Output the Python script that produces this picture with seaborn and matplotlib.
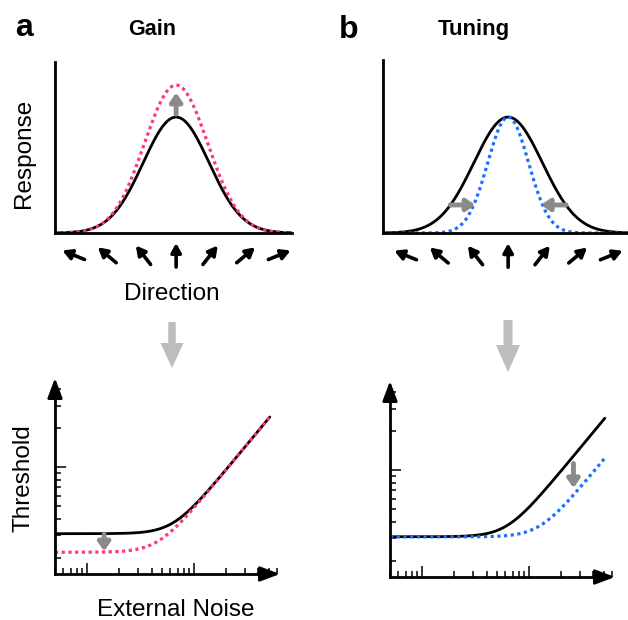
import numpy as np
import matplotlib
matplotlib.use("Agg")
import matplotlib.pyplot as plt
import seaborn as sns
from matplotlib.patches import FancyArrow
from matplotlib.transforms import blended_transform_factory, offset_copy

sns.set_theme(style="white")
plt.rcParams['font.family'] = ['Liberation Sans', 'DejaVu Sans']
plt.rcParams['text.color'] = 'black'

W, H = 628, 620

# tuning curves, direction in degrees
direction = np.linspace(-192, 192, 385)
base_peak = 0.678
base_width = 50
gain_peak = 0.865
gain_width = 48
tuned_width = 31

# little direction glyphs under the x axis
glyph_pos = [-156, -105, -50, 0, 52, 106, 157]
glyph_angle = [-68, -50, -38, 0, 38, 50, 68]

# threshold vs external noise (log-log)
noise = np.logspace(np.log10(0.5), np.log10(51), 300)
knee_p = 3.5
k_base = 0.048
neq_base = 6.4
neq_gain = 4.6
k_b = 0.0495
neq_b = 6.2
k_tuned = 0.0243
neq_tuned = 12.6

pink = '#ff3a6a'
blue = '#1a6fff'
grey = '#8a8a8a'
light = '#bdbdbd'


def gauss(x, peak, width):
    return peak * np.exp(-x ** 2 / (2 * width ** 2))


def tvc(n, k, neq):
    return k * (n ** knee_p + neq ** knee_p) ** (1 / knee_p)


def px_axes(left, top, right, bottom):
    return fig.add_axes([left / W, (H - bottom) / H, (right - left) / W, (bottom - top) / H])


fig = plt.figure(figsize=(W / 100, H / 100), dpi=100)


def tuning_axes(ax, xlim, ytop):
    ax.set_xlim(*xlim)
    ax.set_ylim(0, ytop)
    for s in ['top', 'right']:
        ax.spines[s].set_visible(False)
    for s in ['left', 'bottom']:
        ax.spines[s].set_linewidth(2)
        ax.spines[s].set_color('black')
    ax.set_xticks([])
    ax.set_yticks([])
    trans = blended_transform_factory(ax.transData, ax.transAxes)
    yc = -22 / 171
    for p, a in zip(glyph_pos, glyph_angle):
        dx = 12 * np.sin(np.radians(a))
        dy = 12 * np.cos(np.radians(a))
        ax.annotate('', xy=(p, yc), xycoords=offset_copy(trans, fig=fig, x=dx, y=dy, units='dots'),
                    xytext=(-2 * dx, -2 * dy), textcoords='offset pixels',
                    arrowprops=dict(arrowstyle='-|>,head_length=0.36,head_width=0.2', lw=2.6,
                                    color='black', mutation_scale=15, shrinkA=0, shrinkB=0),
                    annotation_clip=False)


def noise_axes(ax):
    ax.set_xscale('log')
    ax.set_yscale('log')
    ax.set_xlim(0.5, 63.6)
    ax.set_ylim(0.15, 4.9)
    for s in ['top', 'right']:
        ax.spines[s].set_visible(False)
    for s in ['left', 'bottom']:
        ax.spines[s].set_linewidth(2)
        ax.spines[s].set_color('black')
    ax.spines['bottom'].set_bounds(0.5, 50)
    ax.spines['left'].set_bounds(0.15, 4)
    ax.tick_params(which='both', direction='in', color='black', width=1.1,
                   labelbottom=False, labelleft=False, bottom=True, left=True)
    ax.tick_params(which='major', length=8)
    ax.tick_params(which='minor', length=4.5)
    ax.grid(False)
    head = dict(arrowstyle='-|>,head_length=0.8,head_width=0.3', lw=2, color='black',
                mutation_scale=15, shrinkA=0, shrinkB=0)
    ax.annotate('', xy=(1, 0), xycoords='axes fraction', xytext=(0.9, 0),
                arrowprops=head, annotation_clip=False)
    ax.annotate('', xy=(0, 1), xycoords='axes fraction', xytext=(0, 0.9),
                arrowprops=head, annotation_clip=False)


small_head = dict(arrowstyle='-|>,head_length=0.5,head_width=0.35', lw=3.5, color=grey,
                  mutation_scale=10, shrinkA=0, shrinkB=0)

# a, top: gain
ax1 = px_axes(55, 62, 292, 233)
sns.lineplot(x=direction, y=gauss(direction, base_peak, base_width), ax=ax1, color='black', lw=2)
sns.lineplot(x=direction, y=gauss(direction, gain_peak, gain_width), ax=ax1, color=pink, lw=2.3,
             linestyle=(0, (1, 1.1)))
tuning_axes(ax1, (-184, 176), 1.0)
ax1.annotate('', xy=(0, 0.82), xytext=(0, 0.695), arrowprops=small_head)

# b, top: tuning
ax2 = px_axes(383, 60, 628, 233)
sns.lineplot(x=direction, y=gauss(direction, base_peak, base_width + 2), ax=ax2, color='black', lw=2)
sns.lineplot(x=direction, y=gauss(direction, base_peak, tuned_width), ax=ax2, color=blue, lw=2.3,
             linestyle=(0, (1, 1.1)))
tuning_axes(ax2, (-190, 182), 173 / 171)
for x0, x1 in [(-88, -50), (88, 50)]:
    ax2.annotate('', xy=(x1, 0.164), xytext=(x0, 0.164), arrowprops=small_head)

# a, bottom
ax3 = px_axes(55, 378, 280, 574)
sns.lineplot(x=noise, y=tvc(noise, k_base, neq_base), ax=ax3, color='black', lw=2)
sns.lineplot(x=noise, y=tvc(noise, k_base, neq_gain), ax=ax3, color=pink, lw=2.3,
             linestyle=(0, (1, 1.1)))
noise_axes(ax3)
ax3.annotate('', xy=(1.44, 0.225), xytext=(1.44, 0.305), arrowprops=small_head)

# b, bottom
ax4 = px_axes(390, 381, 615, 577)
sns.lineplot(x=noise, y=tvc(noise, k_b, neq_b), ax=ax4, color='black', lw=2)
sns.lineplot(x=noise, y=tvc(noise, k_tuned, neq_tuned), ax=ax4, color=blue, lw=2.3,
             linestyle=(0, (1, 1.1)))
noise_axes(ax4)
ax4.annotate('', xy=(26, 0.73), xytext=(26, 1.13), arrowprops=small_head)

# big grey arrows between rows
fig.add_artist(FancyArrow(1.72, (H - 322) / 100, 0, -0.46, width=0.075, head_width=0.23,
                          head_length=0.25, length_includes_head=True, color=light, lw=0,
                          transform=fig.dpi_scale_trans))
fig.add_artist(FancyArrow(5.08, (H - 320) / 100, 0, -0.52, width=0.09, head_width=0.24,
                          head_length=0.27, length_includes_head=True, color=light, lw=0,
                          transform=fig.dpi_scale_trans))

# texts
fig.text(15 / W, 1 - 36 / H, 'a', fontsize=23, fontweight='bold', ha='left', va='baseline')
fig.text(339 / W, 1 - 38 / H, 'b', fontsize=23, fontweight='bold', ha='left', va='baseline')
fig.text(152.5 / W, 1 - 35 / H, 'Gain', fontsize=15.5, fontweight='bold', ha='center', va='baseline')
fig.text(473.5 / W, 1 - 35 / H, 'Tuning', fontsize=16, fontweight='bold', ha='center', va='baseline')
fig.text(24 / W, 1 - 153 / H, 'Response', fontsize=17.5, rotation=90, ha='center', va='center')
fig.text(172 / W, 1 - 300 / H, 'Direction', fontsize=17.5, ha='center', va='baseline')
fig.text(24 / W, 1 - 478 / H, 'Threshold', fontsize=17.5, rotation=90, ha='center', va='center')
fig.text(176 / W, 1 - 616 / H, 'External Noise', fontsize=17.5, ha='center', va='baseline')

fig.savefig('out.png', dpi=100)
